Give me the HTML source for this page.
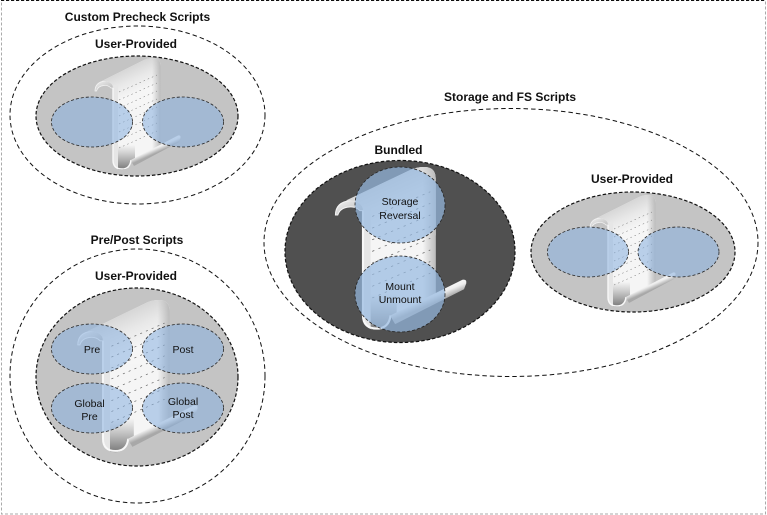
<!DOCTYPE html>
<html><head><meta charset="utf-8"><style>
html,body{margin:0;padding:0;background:#fff}
svg{display:block}
text{font-family:"Liberation Sans",Arial,sans-serif;fill:#111;text-anchor:middle}
.t{font-weight:bold;font-size:12px}
.s{font-size:10.5px}
.o{fill:#fff;stroke:#111;stroke-width:1;stroke-dasharray:4.5 3}
.g{fill:#c4c4c4;stroke:#111;stroke-width:1.2;stroke-dasharray:3.5 2}
.b{fill:rgb(135,176,224);fill-opacity:.54;stroke:#222;stroke-width:.8;stroke-dasharray:3 2}
.d{fill:rgb(150,185,225);fill-opacity:.7}
</style></head><body>
<svg width="767" height="515" viewBox="0 0 767 515" xmlns="http://www.w3.org/2000/svg">
<defs>
<clipPath id="pc"><path d="M113 88L113 160Q113 170 122 170Q130 170 131 160L160.5 146L160.5 66Q160.5 58 153 58Q148 58 144 60L102 81Q113 81 113 88Z"/></clipPath>
<linearGradient id="band" gradientUnits="userSpaceOnUse" x1="128" y1="66" x2="140" y2="92">
<stop offset="0" stop-color="#d4d4d4"/><stop offset=".5" stop-color="#e8e8e8"/><stop offset="1" stop-color="#f6f6f6"/>
</linearGradient>
<linearGradient id="rt" gradientUnits="userSpaceOnUse" x1="152" y1="0" x2="161" y2="0">
<stop offset="0" stop-color="#bbb" stop-opacity="0"/><stop offset="1" stop-color="#b8b8b8"/>
</linearGradient>
<linearGradient id="bt" gradientUnits="userSpaceOnUse" x1="0" y1="145" x2="0" y2="170">
<stop offset="0" stop-color="#888" stop-opacity="0"/><stop offset="1" stop-color="#777"/>
</linearGradient>
<linearGradient id="rl" gradientUnits="userSpaceOnUse" x1="150" y1="145" x2="154" y2="154">
<stop offset="0" stop-color="#fff"/><stop offset=".55" stop-color="#eee"/><stop offset="1" stop-color="#a8a8a8"/>
</linearGradient>
<linearGradient id="cr" x1="0" y1="0" x2="1" y2="1">
<stop offset="0" stop-color="#f2f2f2"/><stop offset="1" stop-color="#b4b4b4"/>
</linearGradient>
<g id="scroll">
<path d="M95 91Q95 82 105 81Q113 81 114 88L111 88Q108 85 104 85.5Q98 86 96.5 91Z" fill="url(#cr)" stroke="#f4f4f4" stroke-width=".7"/>
<path d="M113 88L113 160Q113 170 122 170Q130 170 131 160L160.5 146L160.5 66Q160.5 58 153 58Q148 58 144 60L102 81Q113 81 113 88Z" fill="#f5f5f5"/>
<g clip-path="url(#pc)">
<rect x="95" y="55" width="70" height="50" fill="url(#band)"/>
<rect x="150" y="55" width="11" height="95" fill="url(#rt)"/>
<rect x="113" y="145" width="22" height="26" fill="url(#bt)"/>
<rect x="113" y="85" width="5" height="85" fill="#e6e6e6"/>
</g>
<path d="M113 88L113 160Q113 169 122 169Q130 169 131 160" fill="none" stroke="#f8f8f8" stroke-width="1.4"/>
<path d="M131 160L178 135.5Q181 135 180.5 138L179 142L134 166Q132 163 131 160Z" fill="url(#rl)"/>
<g stroke="#666" stroke-width=".5" stroke-dasharray="1.5 3" fill="none">
<path d="M119 92L157 75M119 100L157 83M119 108L157 91M119 116L157 99M119 124L157 107M119 132L157 115M119 140L157 123M119 148L157 131"/>
</g>
</g>
</defs>

<rect x="1.5" y="0.5" width="764" height="513.5" fill="#fff" stroke="#aaa" stroke-width="1" stroke-dasharray="3 2"/>
<path d="M1 0.5H766" stroke="#111" stroke-width="1" stroke-dasharray="3 2" fill="none"/>

<!-- Custom Precheck -->
<ellipse class="o" cx="137.5" cy="115" rx="127.5" ry="89"/>
<ellipse class="g" cx="137" cy="116" rx="101" ry="60"/>
<use href="#scroll"/>
<ellipse class="b" cx="92" cy="122" rx="40.5" ry="25"/>
<ellipse class="b" cx="183" cy="122" rx="40.5" ry="25"/>
<text class="t" x="137.5" y="21">Custom Precheck Scripts</text>
<text class="t" x="136" y="48">User-Provided</text>

<!-- Pre/Post -->
<ellipse class="o" cx="137.5" cy="376" rx="127.5" ry="127"/>
<ellipse class="g" cx="137" cy="377" rx="101" ry="89"/>
<g transform="translate(103 300) scale(1.4 1.36) translate(-113 -58)"><use href="#scroll"/></g>
<ellipse class="b" cx="92" cy="349" rx="40.5" ry="25"/>
<ellipse class="b" cx="183" cy="349" rx="40.5" ry="25"/>
<ellipse class="b" cx="92" cy="408" rx="40.5" ry="25"/>
<ellipse class="b" cx="183" cy="408" rx="40.5" ry="25"/>
<text class="t" x="137" y="244">Pre/Post Scripts</text>
<text class="t" x="136" y="280">User-Provided</text>
<text class="s" x="92" y="353">Pre</text>
<text class="s" x="183" y="353">Post</text>
<text class="s" x="89.5" y="407">Global</text>
<text class="s" x="89.5" y="420">Pre</text>
<text class="s" x="183" y="405">Global</text>
<text class="s" x="183" y="418">Post</text>

<!-- Storage -->
<ellipse class="o" cx="511" cy="242.5" rx="247" ry="134"/>
<ellipse class="g" style="fill:#505050" cx="400" cy="251.5" rx="115" ry="91"/>
<g transform="translate(363 167) scale(1.53 1.455) translate(-113 -58)"><use href="#scroll"/></g>
<ellipse class="b d" cx="400" cy="205" rx="45" ry="38"/>
<ellipse class="b d" cx="400" cy="294" rx="45" ry="38"/>
<text class="t" x="510" y="101">Storage and FS Scripts</text>
<text class="t" x="398.5" y="154">Bundled</text>
<text class="s" x="400" y="205">Storage</text>
<text class="s" x="400" y="219">Reversal</text>
<text class="s" x="400" y="290">Mount</text>
<text class="s" x="400" y="303">Unmount</text>

<!-- Right user-provided -->
<ellipse class="g" cx="633" cy="252" rx="102" ry="60"/>
<g transform="translate(495 137)"><use href="#scroll"/></g>
<ellipse class="b" cx="588" cy="252" rx="40.5" ry="25"/>
<ellipse class="b" cx="678.5" cy="252" rx="40.5" ry="25"/>
<text class="t" x="632" y="183">User-Provided</text>
</svg>
</body></html>
